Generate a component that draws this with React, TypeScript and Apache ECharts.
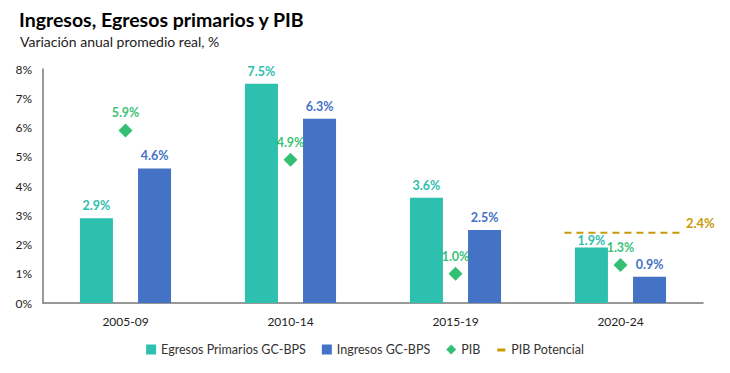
import React, { useEffect, useRef } from "react";
import * as echarts from "echarts";

const categories = ["2005-09", "2010-14", "2015-19", "2020-24"];
const egresos = [2.9, 7.5, 3.6, 1.9];
const ingresos = [4.6, 6.3, 2.5, 0.9];
const pib = [5.9, 4.9, 1.0, 1.3];
const pibPotencial = 2.4;
// span of the potential-GDP dash, in category units (0..4)
const potencialSpan = [3.16, 3.86];
const yTicks = [0, 1, 2, 3, 4, 5, 6, 7, 8];

const FONT = "Lato";
const TEAL = "#2EC0AF";
const BLUE = "#4472C4";
const GREEN = "#00B050";
const GOLD = "#C99A06";

const pct = (p: any) => Number(Array.isArray(p.value) ? p.value[1] : p.value).toFixed(1) + "%";

export default function App() {
  const ref = useRef<HTMLDivElement>(null);
  useEffect(() => {
    document.body.style.margin = "0";
    const chart = echarts.init(ref.current!, null, { renderer: "svg" });
    chart.setOption({
      animation: false,
      textStyle: { fontFamily: FONT },
      title: [
        {
          text: "Ingresos, Egresos primarios y PIB",
          left: 19,
          top: 9,
          padding: 0,
          textStyle: { fontFamily: FONT, fontSize: 19.5, fontWeight: "bold", color: "#000" },
        },
        {
          text: "Variación anual promedio real, %",
          left: 20,
          top: 34,
          padding: 0,
          textStyle: { fontFamily: FONT, fontSize: 14, fontWeight: "normal", color: "#222" },
        },
      ],
      legend: {
        bottom: 12,
        left: "center",
        itemWidth: 10,
        itemHeight: 10,
        itemGap: 16,
        textStyle: { fontFamily: FONT, fontSize: 12.5, color: "#333" },
        data: [
          { name: "Egresos Primarios GC-BPS", icon: "rect" },
          { name: "Ingresos GC-BPS", icon: "rect" },
          { name: "PIB", icon: "diamond" },
          { name: "PIB Potencial", icon: "path://M0,0 L0.01,0 L0.01,0.01 Z M1,4 L9,4 L9,7 L1,7 Z M9.99,9.99 L10,10 L9.99,10 Z" },
        ],
      },
      grid: { left: 43, right: 27, top: 69, bottom: 70 },
      xAxis: [
        {
          type: "category",
          data: categories,
          axisLine: { lineStyle: { color: "#777", width: 1.5 } },
          axisTick: { show: false },
          axisLabel: { fontFamily: FONT, fontSize: 12, color: "#222", margin: 12 },
        },
        { type: "value", min: 0, max: 4, show: false },
      ],
      yAxis: {
        type: "value",
        min: 0,
        max: 8,
        interval: 1,
        splitLine: { show: false },
        axisLine: { show: true, lineStyle: { color: "#777", width: 1.5 } },
        axisTick: { show: false },
        axisLabel: {
          fontFamily: FONT,
          fontSize: 12,
          color: "#222",
          margin: 11,
          formatter: (v: number) => (yTicks.includes(v) ? v + "%" : ""),
        },
      },
      series: [
        {
          name: "Egresos Primarios GC-BPS",
          type: "bar",
          data: egresos.map((v, i) =>
            i === 3 ? { value: v, label: { distance: 0 } } : v
          ),
          barWidth: 33,
          barGap: "76%",
          itemStyle: { color: TEAL },
          label: {
            show: true,
            position: "top",
            distance: 6,
            formatter: pct,
            color: TEAL,
            fontWeight: "bold",
            fontSize: 12.5,
            fontFamily: FONT,
          },
        },
        {
          name: "Ingresos GC-BPS",
          type: "bar",
          data: ingresos,
          barWidth: 33,
          barGap: "76%",
          itemStyle: { color: BLUE },
          label: {
            show: true,
            position: "top",
            distance: 6,
            formatter: pct,
            color: BLUE,
            fontWeight: "bold",
            fontSize: 12.5,
            fontFamily: FONT,
          },
        },
        {
          name: "PIB",
          type: "scatter",
          data: pib,
          symbol: "diamond",
          symbolSize: 14,
          itemStyle: { color: GREEN },
          label: {
            show: true,
            position: "top",
            distance: 4,
            formatter: pct,
            color: GREEN,
            fontWeight: "bold",
            fontSize: 12.5,
            fontFamily: FONT,
          },
        },
        {
          name: "PIB Potencial",
          type: "line",
          xAxisIndex: 1,
          data: potencialSpan.map((x) => [x, pibPotencial]),
          symbol: "none",
          itemStyle: { color: GOLD },
          lineStyle: { color: GOLD, width: 2, type: [7, 5] },
          endLabel: {
            show: true,
            formatter: () => pibPotencial.toFixed(1) + "%",
            color: GOLD,
            fontWeight: "bold",
            fontSize: 13,
            fontFamily: FONT,
            offset: [-2, -10],
          },
        },
      ],
    });
    return () => chart.dispose();
  }, []);
  return <div ref={ref} style={{ width: 730, height: 373 }} />;
}
